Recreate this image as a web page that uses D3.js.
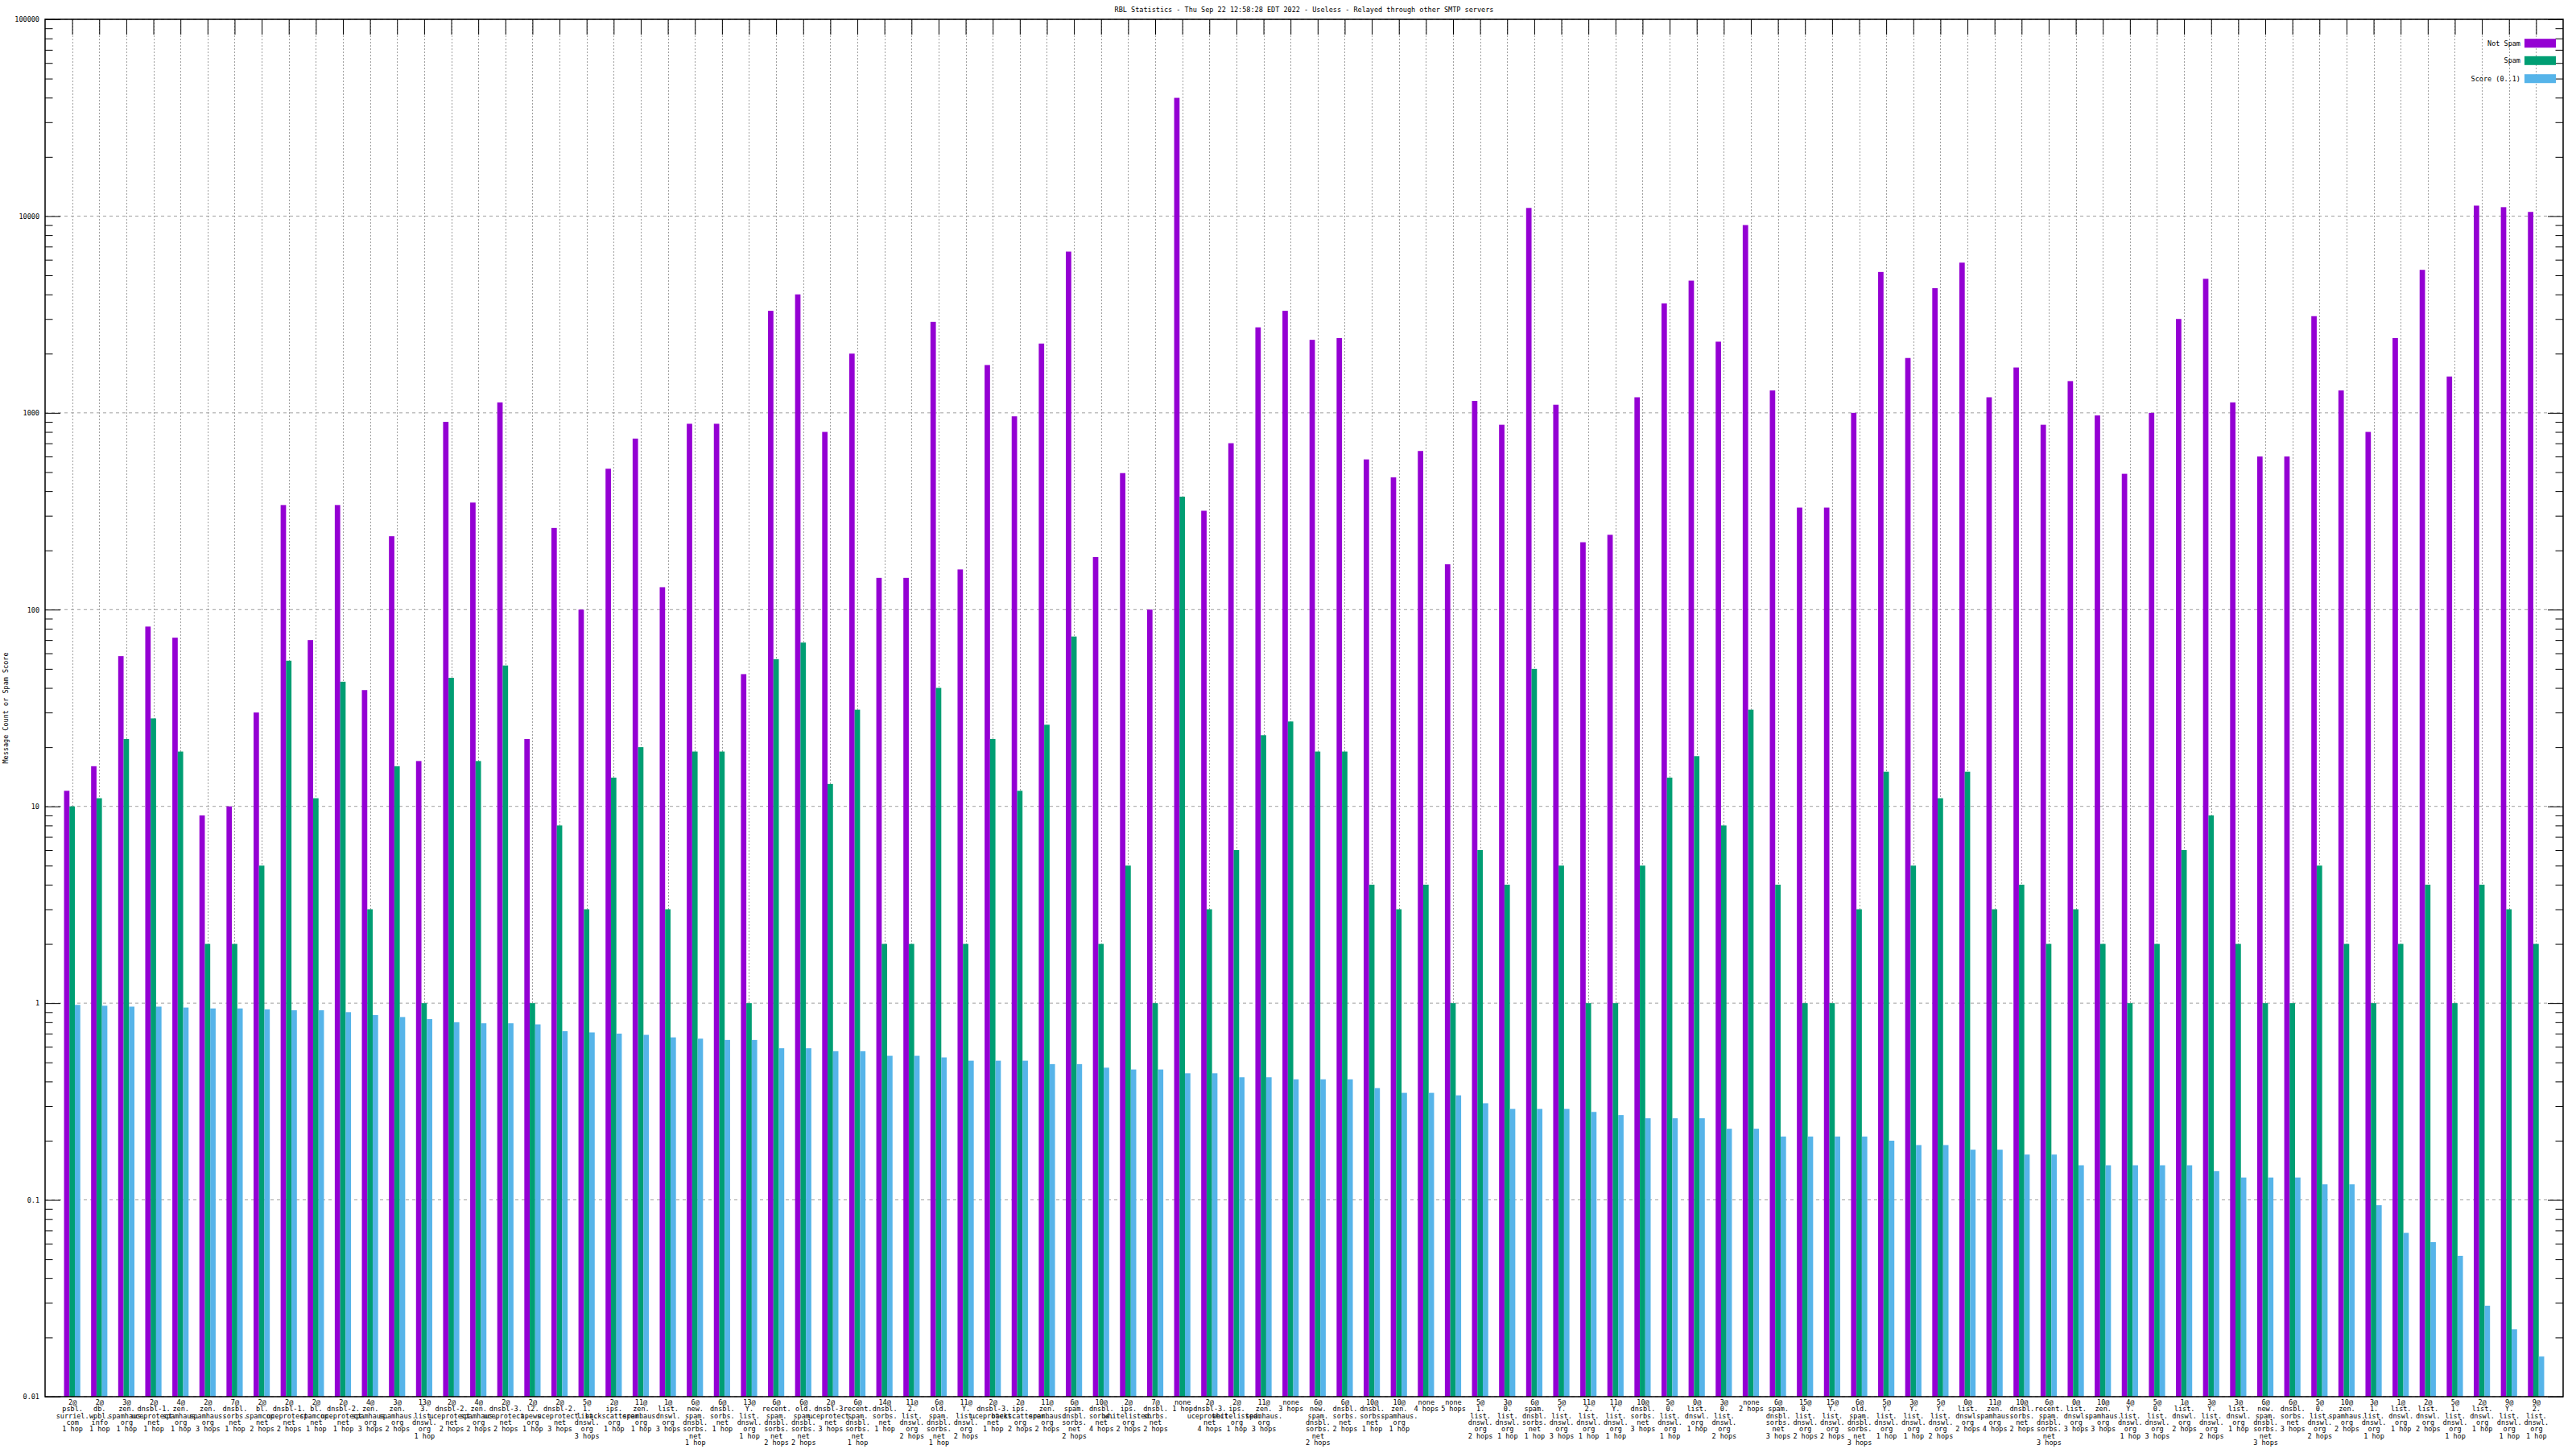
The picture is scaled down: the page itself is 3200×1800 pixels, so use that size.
<!DOCTYPE html>
<html><head><meta charset="utf-8">
<script src="https://cdn.jsdelivr.net/npm/d3@7"></script>
<style>
html,body{margin:0;padding:0;background:#fff;}
svg text{font-family:"DejaVu Sans Mono","Liberation Mono",monospace;}
</style>
</head><body>
<svg id="chart" width="3200" height="1800"></svg>
<script>
const titleText = "RBL Statistics - Thu Sep 22 12:58:28 EDT 2022 - Useless - Relayed through other SMTP servers";
const yAxisTitle = "Message Count or Spam Score";
const seriesNames = ["Not Spam", "Spam", "Score (0..1)"];
const seriesColors = ["#9400d3", "#009e73", "#56b4e9"];
const yTickValues = [100000, 10000, 1000, 100, 10, 1, 0.1, 0.01];
const yTickLabels = ["100000", "10000", "1000", "100", "10", "1", "0.1", "0.01"];

const categories = [
"2@\npsbl.\nsurriel.\ncom\n1 hop",
"2@\ndb.\nwpbl.\ninfo\n1 hop",
"3@\nzen.\nspamhaus.\norg\n1 hop",
"2@\ndnsbl-1.\nuceprotect.\nnet\n1 hop",
"4@\nzen.\nspamhaus.\norg\n1 hop",
"2@\nzen.\nspamhaus.\norg\n3 hops",
"7@\ndnsbl.\nsorbs.\nnet\n1 hop",
"2@\nbl.\nspamcop.\nnet\n2 hops",
"2@\ndnsbl-1.\nuceprotect.\nnet\n2 hops",
"2@\nbl.\nspamcop.\nnet\n1 hop",
"2@\ndnsbl-2.\nuceprotect.\nnet\n1 hop",
"4@\nzen.\nspamhaus.\norg\n3 hops",
"3@\nzen.\nspamhaus.\norg\n2 hops",
"13@\n3.\nlist.\ndnswl.\norg\n1 hop",
"2@\ndnsbl-2.\nuceprotect.\nnet\n2 hops",
"4@\nzen.\nspamhaus.\norg\n2 hops",
"2@\ndnsbl-3.\nuceprotect.\nnet\n2 hops",
"2@\nl2.\napews.\norg\n1 hop",
"2@\ndnsbl-2.\nuceprotect.\nnet\n3 hops",
"5@\n1.\nlist.\ndnswl.\norg\n3 hops",
"2@\nips.\nbackscatterer.\norg\n1 hop",
"11@\nzen.\nspamhaus.\norg\n1 hop",
"1@\nlist.\ndnswl.\norg\n3 hops",
"6@\nnew.\nspam.\ndnsbl.\nsorbs.\nnet\n1 hop",
"6@\ndnsbl.\nsorbs.\nnet\n1 hop",
"13@\nY.\nlist.\ndnswl.\norg\n1 hop",
"6@\nrecent.\nspam.\ndnsbl.\nsorbs.\nnet\n2 hops",
"6@\nold.\nspam.\ndnsbl.\nsorbs.\nnet\n2 hops",
"2@\ndnsbl-3.\nuceprotect.\nnet\n3 hops",
"6@\nrecent.\nspam.\ndnsbl.\nsorbs.\nnet\n1 hop",
"14@\ndnsbl.\nsorbs.\nnet\n1 hop",
"11@\n2.\nlist.\ndnswl.\norg\n2 hops",
"6@\nold.\nspam.\ndnsbl.\nsorbs.\nnet\n1 hop",
"11@\nY.\nlist.\ndnswl.\norg\n2 hops",
"2@\ndnsbl-3.\nuceprotect.\nnet\n1 hop",
"2@\nips.\nbackscatterer.\norg\n2 hops",
"11@\nzen.\nspamhaus.\norg\n2 hops",
"6@\nspam.\ndnsbl.\nsorbs.\nnet\n2 hops",
"10@\ndnsbl.\nsorbs.\nnet\n4 hops",
"2@\nips.\nwhitelisted.\norg\n2 hops",
"7@\ndnsbl.\nsorbs.\nnet\n2 hops",
"none\n1 hop",
"2@\ndnsbl-3.\nuceprotect.\nnet\n4 hops",
"2@\nips.\nwhitelisted.\norg\n1 hop",
"11@\nzen.\nspamhaus.\norg\n3 hops",
"none\n3 hops",
"6@\nnew.\nspam.\ndnsbl.\nsorbs.\nnet\n2 hops",
"6@\ndnsbl.\nsorbs.\nnet\n2 hops",
"10@\ndnsbl.\nsorbs.\nnet\n1 hop",
"10@\nzen.\nspamhaus.\norg\n1 hop",
"none\n4 hops",
"none\n5 hops",
"5@\n1.\nlist.\ndnswl.\norg\n2 hops",
"3@\n0.\nlist.\ndnswl.\norg\n1 hop",
"6@\nspam.\ndnsbl.\nsorbs.\nnet\n1 hop",
"5@\nY.\nlist.\ndnswl.\norg\n3 hops",
"11@\n2.\nlist.\ndnswl.\norg\n1 hop",
"11@\nY.\nlist.\ndnswl.\norg\n1 hop",
"10@\ndnsbl.\nsorbs.\nnet\n3 hops",
"5@\n0.\nlist.\ndnswl.\norg\n1 hop",
"0@\nlist.\ndnswl.\norg\n1 hop",
"3@\n0.\nlist.\ndnswl.\norg\n2 hops",
"none\n2 hops",
"6@\nspam.\ndnsbl.\nsorbs.\nnet\n3 hops",
"15@\n0.\nlist.\ndnswl.\norg\n2 hops",
"15@\nY.\nlist.\ndnswl.\norg\n2 hops",
"6@\nold.\nspam.\ndnsbl.\nsorbs.\nnet\n3 hops",
"5@\nY.\nlist.\ndnswl.\norg\n1 hop",
"3@\nY.\nlist.\ndnswl.\norg\n1 hop",
"5@\nY.\nlist.\ndnswl.\norg\n2 hops",
"0@\nlist.\ndnswl.\norg\n2 hops",
"11@\nzen.\nspamhaus.\norg\n4 hops",
"10@\ndnsbl.\nsorbs.\nnet\n2 hops",
"6@\nrecent.\nspam.\ndnsbl.\nsorbs.\nnet\n3 hops",
"0@\nlist.\ndnswl.\norg\n3 hops",
"10@\nzen.\nspamhaus.\norg\n3 hops",
"4@\nY.\nlist.\ndnswl.\norg\n1 hop",
"5@\n0.\nlist.\ndnswl.\norg\n3 hops",
"1@\nlist.\ndnswl.\norg\n2 hops",
"3@\nY.\nlist.\ndnswl.\norg\n2 hops",
"3@\nlist.\ndnswl.\norg\n1 hop",
"6@\nnew.\nspam.\ndnsbl.\nsorbs.\nnet\n3 hops",
"6@\ndnsbl.\nsorbs.\nnet\n3 hops",
"5@\n0.\nlist.\ndnswl.\norg\n2 hops",
"10@\nzen.\nspamhaus.\norg\n2 hops",
"3@\n1.\nlist.\ndnswl.\norg\n1 hop",
"1@\nlist.\ndnswl.\norg\n1 hop",
"2@\nlist.\ndnswl.\norg\n2 hops",
"5@\n1.\nlist.\ndnswl.\norg\n1 hop",
"2@\nlist.\ndnswl.\norg\n1 hop",
"9@\nY.\nlist.\ndnswl.\norg\n1 hop",
"9@\n2.\nlist.\ndnswl.\norg\n1 hop"
];

const notSpam = [12,16,58,82,72,9,10,30,340,70,
340,39,236,17,900,350,1130,22,260,100,
520,740,130,880,880,47,3300,4000,800,2000,
145,145,2900,160,1750,960,2250,6600,185,494,
100,39900,318,701,2720,3300,2350,2400,580,470,
640,170,1150,870,11000,1100,220,240,1200,3600,
4700,2300,9000,1300,330,330,1000,5200,1900,4300,
5800,1200,1700,870,1450,970,490,1000,3000,4800,
1130,600,600,3100,1300,800,2400,5330,1530,11300,
11100,10500];

const spam = [10,11,22,28,19,2,2,5,55,11,
43,3,16,1,45,17,52,1,8,3,
14,20,3,19,19,1,56,68,13,31,
2,2,40,2,22,12,26,73,2,5,
1,375,3,6,23,27,19,19,4,3,
4,1,6,4,50,5,1,1,5,14,
18,8,31,4,1,1,3,15,5,11,
15,3,4,2,3,2,1,2,6,9,
2,1,1,5,2,1,2,4,1,4,
3,2];

const score = [0.98,0.97,0.96,0.96,0.95,0.94,0.94,0.93,0.92,0.92,
0.90,0.87,0.85,0.83,0.80,0.79,0.79,0.78,0.72,0.71,
0.70,0.69,0.67,0.66,0.65,0.65,0.59,0.59,0.57,0.57,
0.54,0.54,0.53,0.51,0.51,0.51,0.49,0.49,0.47,0.46,
0.46,0.44,0.44,0.42,0.42,0.41,0.41,0.41,0.37,0.35,
0.35,0.34,0.31,0.29,0.29,0.29,0.28,0.27,0.26,0.26,
0.26,0.23,0.23,0.21,0.21,0.21,0.21,0.20,0.19,0.19,
0.18,0.18,0.17,0.17,0.15,0.15,0.15,0.15,0.15,0.14,
0.13,0.13,0.13,0.12,0.12,0.094,0.068,0.061,0.052,0.029,
0.022,0.016];

const series = [notSpam, spam, score];

const W = 3200, H = 1800;
const L = 56, R = 3184, T = 24, B = 1735;
const FS = 8.5;

const svg = d3.select("#chart");
svg.append("rect").attr("width", W).attr("height", H).attr("fill", "#fff");

const n = categories.length;
const x = d3.scaleLinear().domain([-1, n]).range([L, R]);
const y = d3.scaleLog().domain([0.01, 100000]).range([B, T]);

const gridColor = "#a0a0a0";
// horizontal grid (major decades)
svg.append("g").selectAll("line").data(yTickValues).join("line")
  .attr("x1", L).attr("x2", R)
  .attr("y1", d => y(d)).attr("y2", d => y(d))
  .attr("stroke", gridColor).attr("stroke-width", 1)
  .attr("stroke-dasharray", "4,4");
// vertical grid at each group
svg.append("g").selectAll("line").data(d3.range(n)).join("line")
  .attr("x1", d => Math.round(x(d)) + 0.5).attr("x2", d => Math.round(x(d)) + 0.5)
  .attr("y1", T).attr("y2", B)
  .attr("stroke", gridColor).attr("stroke-width", 1)
  .attr("stroke-dasharray", "2,2");

// bars
const bw = 0.2;
series.forEach((vals, s) => {
  svg.append("g").selectAll("rect").data(vals).join("rect")
    .attr("x", (d, i) => x(i - 0.3 + s * bw))
    .attr("width", x(bw) - x(0))
    .attr("y", d => y(d))
    .attr("height", d => B - y(d))
    .attr("fill", seriesColors[s]);
});

// minor y tick values
const minorVals = [];
for (let e = -2; e < 5; e++) for (let m = 2; m <= 9; m++) minorVals.push(m * Math.pow(10, e));

const styleAxis = g => {
  g.select(".domain").remove();
  g.selectAll(".tick line").attr("stroke", "#000").attr("stroke-width", 1);
  g.selectAll("text").attr("font-family", "DejaVu Sans Mono, monospace").attr("font-size", FS).attr("fill", "#000");
};

// left axis major
svg.append("g").attr("transform", `translate(${L},0)`)
  .call(d3.axisLeft(y).tickValues(yTickValues).tickSize(-19).tickPadding(7)
        .tickFormat((d, i) => yTickLabels[i]))
  .call(styleAxis);
svg.append("g").attr("transform", `translate(${L},0)`)
  .call(d3.axisLeft(y).tickValues(minorVals).tickSize(-9.5).tickFormat(""))
  .call(styleAxis);
// right axis mirror
svg.append("g").attr("transform", `translate(${R},0)`)
  .call(d3.axisRight(y).tickValues(yTickValues).tickSize(-19).tickFormat(""))
  .call(styleAxis);
svg.append("g").attr("transform", `translate(${R},0)`)
  .call(d3.axisRight(y).tickValues(minorVals).tickSize(-9.5).tickFormat(""))
  .call(styleAxis);
// top axis mirror ticks
svg.append("g").attr("transform", `translate(0,${T})`)
  .call(d3.axisTop(x).tickValues(d3.range(n)).tickSize(-19).tickFormat(""))
  .call(styleAxis);

// bottom axis with multi-line labels
const xAxisG = svg.append("g").attr("transform", `translate(0,${B})`)
  .call(d3.axisBottom(x).tickValues(d3.range(n)).tickSize(0).tickPadding(0).tickFormat(""))
  .call(styleAxis);
xAxisG.selectAll(".tick").each(function(d) {
  const t = d3.select(this).append("text")
    .attr("text-anchor", "middle")
    .attr("font-size", FS).attr("fill", "#000")
    .attr("y", 10);
  categories[d].split("\n").forEach((line, k) => {
    t.append("tspan").attr("x", 0).attr("dy", k === 0 ? "0.0em" : 8.3).text(line);
  });
});

// frame
svg.append("rect").attr("x", L).attr("y", T).attr("width", R - L).attr("height", B - T)
  .attr("fill", "none").attr("stroke", "#000").attr("stroke-width", 1.5);

// title
svg.append("text").attr("x", (L + R) / 2).attr("y", 15)
  .attr("text-anchor", "middle").attr("font-size", FS).attr("fill", "#000")
  .text(titleText);

// y axis title
svg.append("text").attr("transform", `translate(10,${(T + B) / 2}) rotate(-90)`)
  .attr("text-anchor", "middle").attr("font-size", FS).attr("fill", "#000")
  .text(yAxisTitle);

// legend
const legY = [53.7, 75.3, 97.7];
const leg = svg.append("g");
seriesNames.forEach((name, s) => {
  leg.append("text").attr("x", 3131).attr("y", legY[s] + 3)
    .attr("text-anchor", "end").attr("font-size", FS).attr("fill", "#000").text(name);
  leg.append("rect").attr("x", 3136).attr("y", legY[s] - 5.5).attr("width", 39).attr("height", 11)
    .attr("fill", seriesColors[s]);
});
</script>
</body></html>
